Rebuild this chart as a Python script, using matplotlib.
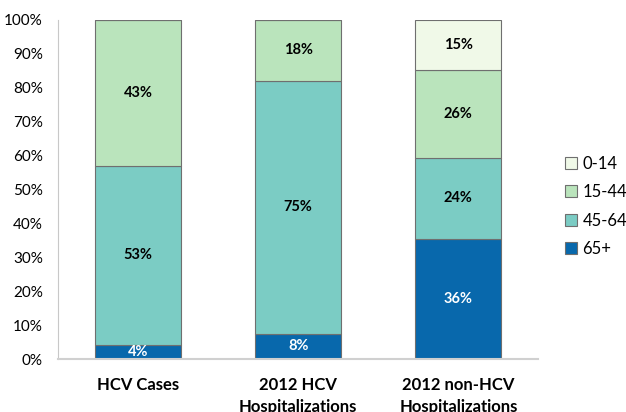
import matplotlib.pyplot as plt
import numpy as np

plt.rcParams['font.family'] = ['Lato', 'DejaVu Sans']

categories = ['HCV Cases', '2012 HCV\nHospitalizations', '2012 non-HCV\nHospitalizations']
age_groups = ['65+', '45-64', '15-44', '0-14']
shares = {
    '65+':   [4.2, 7.4, 35.4],
    '45-64': [52.8, 74.6, 23.9],
    '15-44': [43.0, 18.0, 26.0],
    '0-14':  [0.0, 0.0, 14.7],
}
labels = {
    '65+':   ['4%', '8%', '36%'],
    '45-64': ['53%', '75%', '24%'],
    '15-44': ['43%', '18%', '26%'],
    '0-14':  ['', '', '15%'],
}
colors = {'65+': '#0868ac', '45-64': '#7bccc4', '15-44': '#bae4bc', '0-14': '#f0f9e8'}

fig = plt.figure(figsize=(6.26, 4.12), dpi=100)
ax = fig.add_axes([0.093, 0.1286, 0.767, 0.8229])

x = np.arange(len(categories))
bottom = np.zeros(len(categories))
handles = []
for g in age_groups:
    vals = np.array(shares[g])
    bars = ax.bar(x, vals, width=0.5375, bottom=bottom, color=colors[g],
                  edgecolor='#6f6f6f', linewidth=0.8, label=g)
    handles.append(bars)
    for i, b in enumerate(bars):
        if vals[i] > 0:
            ax.text(b.get_x() + b.get_width() / 2, bottom[i] + vals[i] / 2, labels[g][i],
                    ha='center', va='center', fontsize=10.5, fontweight='bold',
                    color='white' if g == '65+' else 'black')
    bottom += vals

ax.set_xlim(-0.5, 2.5)
ax.set_ylim(0, 100)
ax.set_yticks(np.arange(0, 101, 10))
ax.set_yticklabels([f'{v}%' for v in range(0, 101, 10)], fontsize=11)
ax.set_xticks(x)
ax.set_xticklabels(categories, fontsize=12, fontweight='bold', va='top', linespacing=1.45)
ax.tick_params(axis='both', length=0)
ax.tick_params(axis='y', pad=11)
ax.tick_params(axis='x', pad=13)
for s in ['top', 'right']:
    ax.spines[s].set_visible(False)
ax.spines['left'].set_color('#c8c8c8')
ax.spines['bottom'].set_color('#d0d0d0')
ax.spines['bottom'].set_linewidth(1.5)

leg = ax.legend(handles[::-1], age_groups[::-1], loc='center left',
                bbox_to_anchor=(1.055, 0.45), frameon=False, fontsize=12,
                handlelength=0.75, handleheight=0.75, handletextpad=0.3,
                labelspacing=0.75, borderpad=0, borderaxespad=0)

fig.savefig('out.png', dpi=100)
